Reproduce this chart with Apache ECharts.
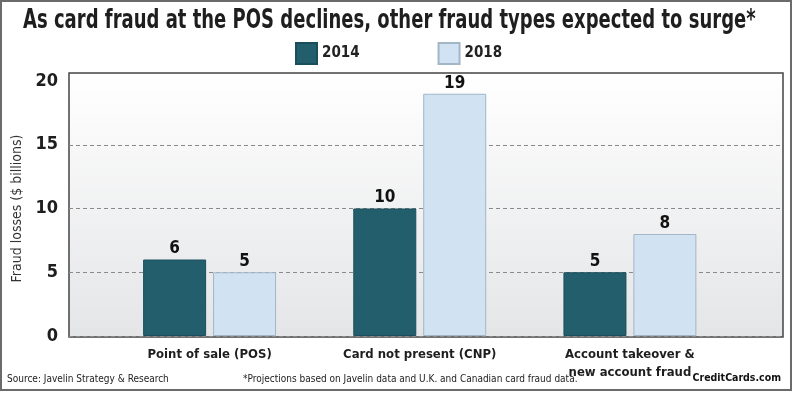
<!DOCTYPE html>
<html>
<head>
<meta charset="utf-8">
<script src="https://cdn.jsdelivr.net/npm/echarts@6/dist/echarts.min.js"></script>
<style>
  body { margin: 0; background: #fff; }
  #chart { width: 794px; height: 398px; }
</style>
</head>
<body>
<div id="chart"></div>
<script>
// fraud losses, $ billions
const categories = ['Point of sale (POS)', 'Card not present (CNP)', 'Account takeover &\nnew account fraud']
const losses2014 = [6, 10, 5]
const losses2018 = [5, 19, 8]
const yMin = 0
const yMax = 20
const yStep = 5

const NARROW = "'DejaVu Sans Condensed', 'Liberation Sans Narrow', sans-serif"
const DARK = '#235E6D'
const LIGHT = '#D1E3F2'
const GRID_LINE = '#8a8a8a'

const chart = echarts.init(document.getElementById('chart'))

const barLabel = {
  show: true,
  position: 'top',
  distance: 2,
  fontFamily: NARROW,
  fontSize: 17,
  fontWeight: 'bold',
  color: '#111',
}

const option = {
  backgroundColor: '#fff',
  animation: false,
  title: [
    {
      text: 'Source: Javelin Strategy & Research',
      left: 7,
      top: 374,
      padding: 0,
      textStyle: { fontFamily: NARROW, fontSize: 10, fontWeight: 'normal', color: '#222' },
    },
    {
      text: '*Projections based on Javelin data and U.K. and Canadian card fraud data.',
      left: 243,
      top: 374,
      padding: 0,
      textStyle: { fontFamily: NARROW, fontSize: 10, fontWeight: 'normal', color: '#222' },
    },
    {
      text: 'CreditCards.com',
      right: 13,
      top: 373,
      padding: 0,
      textStyle: { fontFamily: NARROW, fontSize: 10.5, fontWeight: 'bold', color: '#111' },
    },
  ],
  legend: {
    left: 295,
    top: 42,
    padding: 0,
    itemWidth: 21,
    itemHeight: 21,
    itemGap: 78,
    icon: 'rect',
    textStyle: { fontFamily: NARROW, fontSize: 15, fontWeight: 'bold', color: '#222' },
    data: ['2014', '2018'],
  },
  grid: [
    {
      // outer frame of the plot
      left: 69,
      right: 11,
      top: 73,
      bottom: 61,
      show: true,
      borderColor: '#444',
      borderWidth: 1.5,
      backgroundColor: new echarts.graphic.LinearGradient(0, 0, 0, 1, [
        { offset: 0, color: '#FFFFFF' },
        { offset: 1, color: '#E4E5E7' },
      ]),
    },
    // value axis + dashed lines, full width
    { left: 69, right: 11, top: 81, bottom: 62 },
    // bars sit in a narrower band inside the frame
    { left: 104.5, right: 59, top: 81, bottom: 62 },
  ],
  xAxis: [
    { gridIndex: 0, type: 'value', show: false },
    { gridIndex: 1, type: 'value', show: false },
    {
      gridIndex: 2,
      type: 'category',
      data: categories,
      axisLine: { show: false },
      axisTick: { show: false },
      axisLabel: {
        interval: 0,
        margin: 10,
        fontFamily: NARROW,
        fontSize: 13,
        fontWeight: 'bold',
        lineHeight: 18,
        color: '#1e1e1e',
      },
    },
  ],
  yAxis: [
    { gridIndex: 0, type: 'value', show: false },
    {
      gridIndex: 1,
      type: 'value',
      min: yMin,
      max: yMax,
      interval: yStep,
      name: 'Fraud losses ($ billions)',
      nameLocation: 'middle',
      nameGap: 43,
      nameTextStyle: { fontFamily: NARROW, fontSize: 14, color: '#333' },
      axisLine: { show: false },
      axisTick: { show: false },
      splitLine: {
        lineStyle: {
          type: [4, 3],
          width: 1,
          color: [GRID_LINE, GRID_LINE, GRID_LINE, GRID_LINE, 'rgba(0,0,0,0)'],
        },
      },
      axisLabel: {
        margin: 11,
        fontFamily: NARROW,
        fontSize: 18,
        fontWeight: 'bold',
        color: '#1e1e1e',
      },
    },
    { gridIndex: 2, type: 'value', min: yMin, max: yMax, show: false },
  ],
  series: [
    {
      name: '2014',
      type: 'bar',
      xAxisIndex: 2,
      yAxisIndex: 2,
      data: losses2014,
      barWidth: 63,
      barGap: '11%',
      itemStyle: { color: DARK, borderColor: '#1B4E5B', borderWidth: 1 },
      label: barLabel,
    },
    {
      name: '2018',
      type: 'bar',
      xAxisIndex: 2,
      yAxisIndex: 2,
      data: losses2018,
      barWidth: 63,
      barGap: '11%',
      itemStyle: { color: LIGHT, borderColor: '#A3B6C6', borderWidth: 1 },
      label: barLabel,
    },
  ],
  graphic: [
    {
      // headline, squeezed to the width of the original narrow face
      type: 'text',
      x: 23,
      y: 21,
      scaleX: 0.77,
      style: {
        text: 'As card fraud at the POS declines, other fraud types expected to surge*',
        fontFamily: NARROW,
        fontSize: 26,
        fontWeight: 'bold',
        fill: '#1e1e1e',
        verticalAlign: 'middle',
      },
    },
    {
      type: 'rect',
      silent: true,
      z: 100,
      shape: { x: 1, y: 1, width: 790, height: 389 },
      style: { fill: 'none', stroke: '#6b6b6b', lineWidth: 2 },
    },
  ],
}

chart.setOption(option)
</script>
</body>
</html>
